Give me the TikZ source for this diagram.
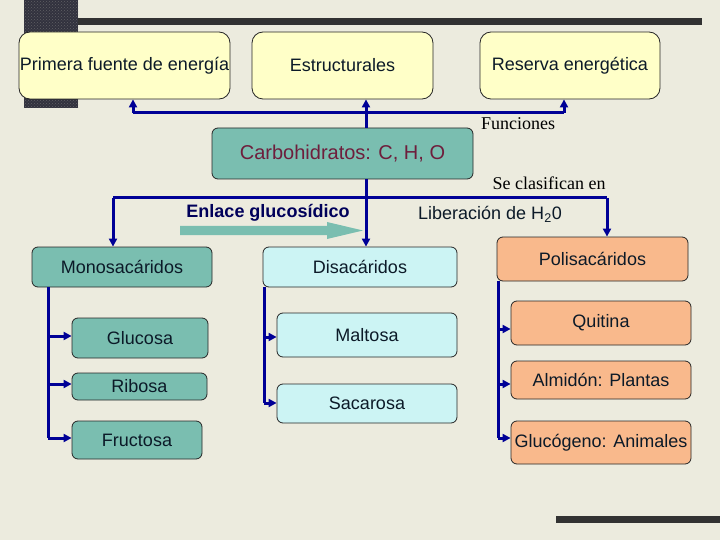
\documentclass[tikz,border=0pt]{standalone}
\usepackage{fontspec}
\setmainfont{Liberation Sans}
\newfontfamily\tnr{Liberation Serif}
\usetikzlibrary{arrows.meta,patterns}
\definecolor{bgc}{RGB}{236,235,222}
\definecolor{ybox}{RGB}{255,255,200}
\definecolor{tealbox}{RGB}{122,190,176}
\definecolor{cyanbox}{RGB}{204,244,244}
\definecolor{orbox}{RGB}{249,185,140}
\definecolor{navyline}{RGB}{0,0,150}
\definecolor{txtc}{RGB}{12,26,40}
\definecolor{maroonc}{RGB}{110,30,60}
\definecolor{darkbar}{RGB}{50,50,50}
\definecolor{checkc}{RGB}{50,50,62}
\tikzset{
  box/.style={draw=black!85, line width=0.8pt, inner sep=0pt, align=center, text=txtc, font=\fontsize{18}{21}\selectfont},
  topbox/.style={box, fill=ybox, rounded corners=11pt},
  tbox/.style={box, fill=tealbox, rounded corners=6pt},
  cbox/.style={box, fill=cyanbox, rounded corners=6pt},
  obox/.style={box, fill=orbox, rounded corners=6pt},
  lbl/.style={inner sep=0pt, font=\tnr\fontsize{18}{21}\selectfont, text=black},
  slbl/.style={inner sep=0pt, font=\fontsize{18}{21}\selectfont, text=txtc},
  bline/.style={draw=navyline, line width=3pt},
  barr/.style={bline, -{Triangle[length=8pt,width=8pt]}}
}
\begin{document}
\begin{tikzpicture}[x=1pt,y=-1pt]
\useasboundingbox (0,0) rectangle (720,540);
\fill[bgc] (0,0) rectangle (720,540);
% decorative bars
\fill[checkc] (24,0) rectangle (78,108);
\fill[pattern=crosshatch dots, pattern color=gray!60!checkc] (24,0) rectangle (78,108);
\fill[darkbar] (78,18) rectangle (702,25);
\fill[darkbar] (556,516) rectangle (720,523);

% top boxes
\node[topbox, minimum width=211pt, minimum height=67pt] (prim) at (124.5,65.5) {Primera fuente de energía};
\node[topbox, minimum width=181pt, minimum height=67pt] (estr) at (342.5,65.5) {Estructurales};
\node[topbox, minimum width=180pt, minimum height=67pt] (res) at (570,65.5) {Reserva energética};

% central
\node[tbox, minimum width=261pt, minimum height=51pt, text=maroonc, font=\fontsize{20}{24}\selectfont] (carb) at (342.5,153.5) {Carbohidratos: C, H, O};

% monosacaridos
\node[tbox, minimum width=180pt, minimum height=40pt] (mono) at (122,267) {Monosacáridos};
\node[tbox, minimum width=136pt, minimum height=40pt] (glu) at (140,338) {Glucosa};
\node[tbox, minimum width=135pt, minimum height=27pt] (rib) at (139.5,386.5) {Ribosa};
\node[tbox, minimum width=130pt, minimum height=38pt] (fru) at (137,440) {Fructosa};

% disacaridos
\node[cbox, minimum width=194pt, minimum height=40pt] (dis) at (360,267) {Disacáridos};
\node[cbox, minimum width=180pt, minimum height=44pt] (mal) at (367,335) {Maltosa};
\node[cbox, minimum width=180pt, minimum height=39pt] (sac) at (367,403.5) {Sacarosa};

% polisacaridos
\node[obox, minimum width=191pt, minimum height=44pt] (pol) at (592.5,259) {Polisacáridos};
\node[obox, minimum width=180pt, minimum height=44pt] (qui) at (601,323) {Quitina};
\node[obox, minimum width=180pt, minimum height=38pt] (alm) at (601,380) {Almidón: Plantas};
\node[obox, minimum width=180pt, minimum height=43pt] (gluc) at (601,442.5) {Glucógeno: Animales};

% labels
\node[lbl] (fun) at (518,124) {Funciones};
\node[lbl] (cla) at (549,183) {Se clasifican en};
\node[slbl, font=\bfseries\fontsize{18}{21}\selectfont, text=navyline!60!black] (enl) at (268,213) {Enlace glucosídico};
\node[slbl] (lib) at (490,214) {Liberación de H\textsubscript{2}0};

% teal arrow
\fill[tealbox] (180,226) -- (327,226) -- (327,222) -- (363,230.5) -- (327,239) -- (327,235) -- (180,235) -- cycle;

% top connectors
\coordinate (t1) at (133,113);
\coordinate (t2) at (366,113);
\coordinate (t3) at (564,113);
\draw[bline] (t1) -- (t3);
\draw[barr] (t1) -- (t1 |- prim.south);
\draw[barr] (t3) -- (t3 |- res.south);
\draw[barr] (carb.north -| t2) -- (t2 |- estr.south);

% classification connectors
\coordinate (b1) at (113,198);
\coordinate (b2) at (366,198);
\coordinate (b3) at (607,198);
\draw[bline] (b1) -- (b3);
\draw[barr] (b1) -- (b1 |- mono.north);
\draw[barr] (carb.south -| b2) -- (b2 |- dis.north);
\draw[barr] (b3) -- (b3 |- pol.north);

% mono branches
\coordinate (m1) at (48,336);
\coordinate (m2) at (48,384);
\coordinate (m3) at (48,438);
\draw[bline] (mono.south -| m3) -- (m3);
\draw[barr] (m1) -- (m1 -| glu.west);
\draw[barr] (m2) -- (m2 -| rib.west);
\draw[barr] (m3) -- (m3 -| fru.west);

% di branches
\coordinate (d1) at (264,337);
\coordinate (d2) at (264,403);
\draw[bline] (dis.south -| d2) -- (d2);
\draw[barr] (d1) -- (d1 -| mal.west);
\draw[barr] (d2) -- (d2 -| sac.west);

% poli branches
\coordinate (p1) at (498,329);
\coordinate (p2) at (498,384);
\coordinate (p3) at (498,438);
\draw[bline] (pol.south -| p3) -- (p3);
\draw[barr] (p1) -- (p1 -| qui.west);
\draw[barr] (p2) -- (p2 -| alm.west);
\draw[barr] (p3) -- (p3 -| gluc.west);
\end{tikzpicture}
\end{document}
